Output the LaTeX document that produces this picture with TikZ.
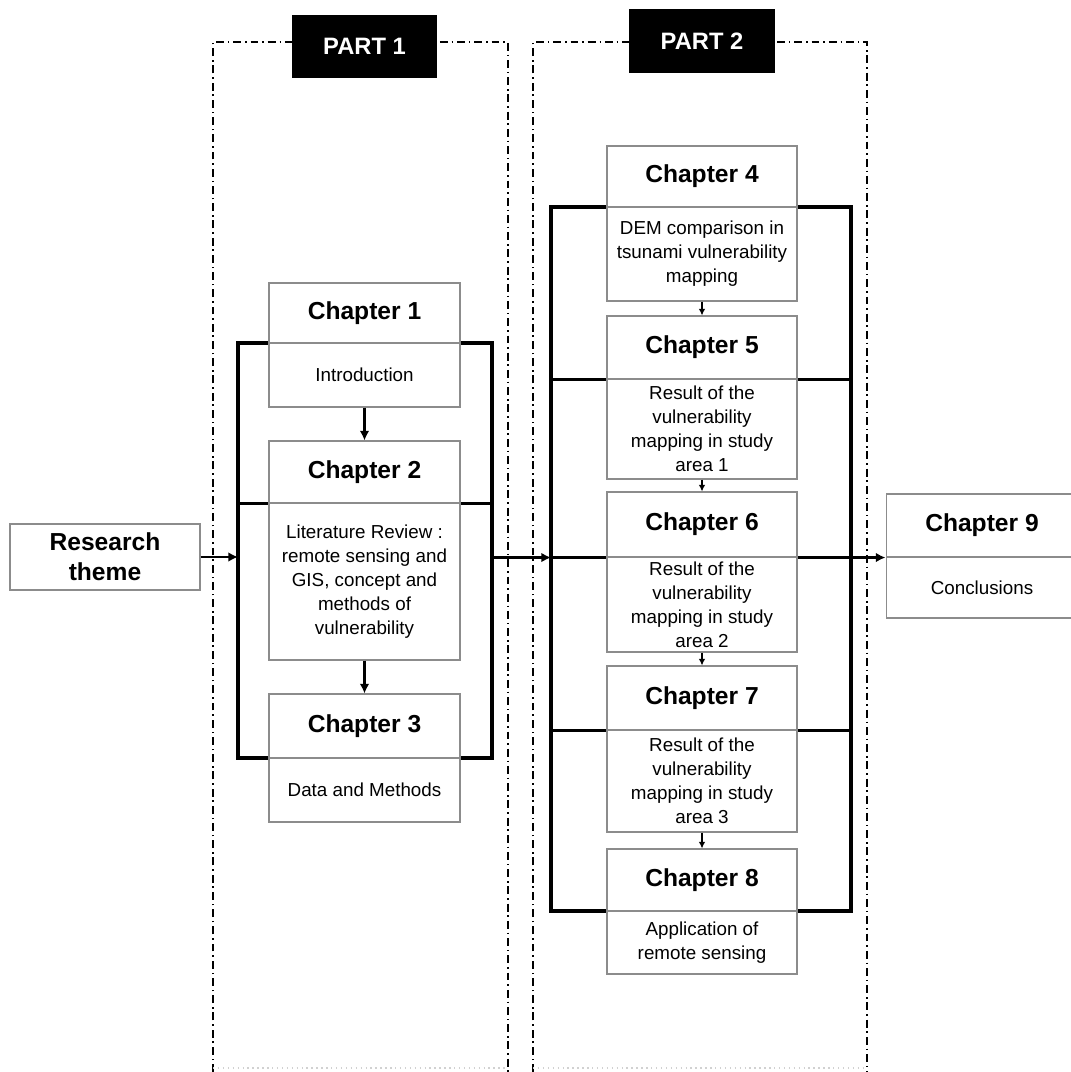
\documentclass[tikz,border=0pt]{standalone}
\usepackage{fontspec}
\setmainfont{Liberation Sans}
\usetikzlibrary{arrows.meta,backgrounds}
\definecolor{boxgray}{RGB}{140,140,140}
\begin{document}
\begin{tikzpicture}[x=0.02cm,y=-0.02cm,
  box/.style={draw=boxgray,line width=0.6pt,fill=white,inner sep=0pt,align=center,anchor=center},
  hd/.style={box,font=\bfseries\fontsize{14}{17}\selectfont},
  bd/.style={box,font=\fontsize{10.7}{13.6}\selectfont},
  part/.style={fill=black,text=white,inner sep=0pt,anchor=center,font=\bfseries\fontsize{13.5}{16}\selectfont},
  frame/.style={line width=0.9pt,dash pattern=on 4.5pt off 2.2pt on 0.9pt off 2.2pt},
  brk/.style={line width=2pt},
  arr/.style={line width=1.5pt,-{Latex[length=5.5pt,width=5.5pt]}},
  sarr/.style={line width=1pt,-{Latex[length=3.8pt,width=3.8pt]}},
  wA/.style={minimum width=3.82cm},
  wB/.style={minimum width=3.8cm}]

\useasboundingbox (0,0) rectangle (1071,1072);

% ---- part headers
\node[part,minimum width=2.9cm,minimum height=1.26cm] (p1) at (364.5,46.5) {PART 1};
\node[part,minimum width=2.92cm,minimum height=1.28cm] (p2) at (702,41) {PART 2};

% ---- research theme
\node[hd,minimum width=3.8cm,minimum height=1.32cm] (rt) at (105,557) {Research\\theme};

% ---- part 1 chapters
\node[hd,wA,minimum height=1.2cm]  (c1h) at (364.5,313)   {Chapter 1};
\node[bd,wA,minimum height=1.28cm] (c1b) at (364.5,375)   {Introduction};
\node[hd,wA,minimum height=1.24cm] (c2h) at (364.5,472)   {Chapter 2};
\node[bd,wA,minimum height=3.14cm] (c2b) at (364.5,581.5) {Literature Review :\\remote sensing and\\GIS, concept and\\methods of\\vulnerability};
\node[hd,wA,minimum height=1.28cm] (c3h) at (364.5,726)   {Chapter 3};
\node[bd,wA,minimum height=1.28cm] (c3b) at (364.5,790)   {Data and Methods};

% ---- part 2 chapters
\node[hd,wB,minimum height=1.22cm] (c4h) at (702,176.5) {Chapter 4};
\node[bd,wB,minimum height=1.88cm] (c4b) at (702,254)   {DEM comparison in\\tsunami vulnerability\\mapping};
\node[hd,wB,minimum height=1.26cm] (c5h) at (702,347.5) {Chapter 5};
\node[bd,wB,minimum height=2cm]    (c5b) at (702,429)   {Result of the\\vulnerability\\mapping in study\\area 1};
\node[hd,wB,minimum height=1.3cm]  (c6h) at (702,524.5) {Chapter 6};
\node[bd,wB,minimum height=1.9cm]  (c6b) at (702,604.5) {Result of the\\vulnerability\\mapping in study\\area 2};
\node[hd,wB,minimum height=1.28cm] (c7h) at (702,698)   {Chapter 7};
\node[bd,wB,minimum height=2.04cm] (c7b) at (702,781)   {Result of the\\vulnerability\\mapping in study\\area 3};
\node[hd,wB,minimum height=1.24cm] (c8h) at (702,880)   {Chapter 8};
\node[bd,wB,minimum height=1.26cm] (c8b) at (702,942.5) {Application of\\remote sensing};

% ---- conclusion
\node[hd,minimum width=3.84cm,minimum height=1.26cm] (c9h) at (982,525.5) {Chapter 9};
\node[bd,minimum width=3.84cm,minimum height=1.22cm] (c9b) at (982,587.5) {Conclusions};

% ---- bracket corners
\coordinate (b1a) at (238,343);
\coordinate (b1b) at (492,758);
\coordinate (b2a) at (551,207);
\coordinate (b2b) at (851,911);

\begin{scope}[on background layer]
  % dash-dotted part frames
  \draw[frame] (213,1072) -- (213,42) -- (508,42) -- (508,1072);
  \draw[frame] (533,1072) -- (533,42) -- (867,42) -- (867,1072);
  \draw[black!18,line width=0.8pt,dotted] (213,1068) -- (508,1068);
  \draw[black!18,line width=0.8pt,dotted] (533,1068) -- (867,1068);
  % part 1 bracket
  \draw[brk] (b1a) rectangle (b1b);
  \draw[brk] (b1a |- c2h.south) -- (b1b |- c2h.south);
  % part 2 bracket
  \draw[brk] (b2a) rectangle (b2b);
  \draw[brk] (b2a |- c5h.south) -- (b2b |- c5h.south);
  \draw[brk] (b2a |- c6h.south) -- (b2b |- c6h.south);
  \draw[brk] (b2a |- c7h.south) -- (b2b |- c7h.south);
\end{scope}

% ---- flow between parts
\draw[arr] (rt.east) -- (rt.east -| b1a);
\draw[arr] (b1b |- c6h.south) -- (b2a |- c6h.south);
\draw[arr] (b2b |- c9h.south west) -- (c9h.south west);

% ---- flow between chapters
\draw[arr] (c1b.south) -- (c2h.north);
\draw[arr] (c2b.south) -- (c3h.north);
\draw[sarr] (c4b.south) -- (c5h.north);
\draw[sarr] (c5b.south) -- (c6h.north);
\draw[sarr] (c6b.south) -- (c7h.north);
\draw[sarr] (c7b.south) -- (c8h.north);
\end{tikzpicture}
\end{document}
